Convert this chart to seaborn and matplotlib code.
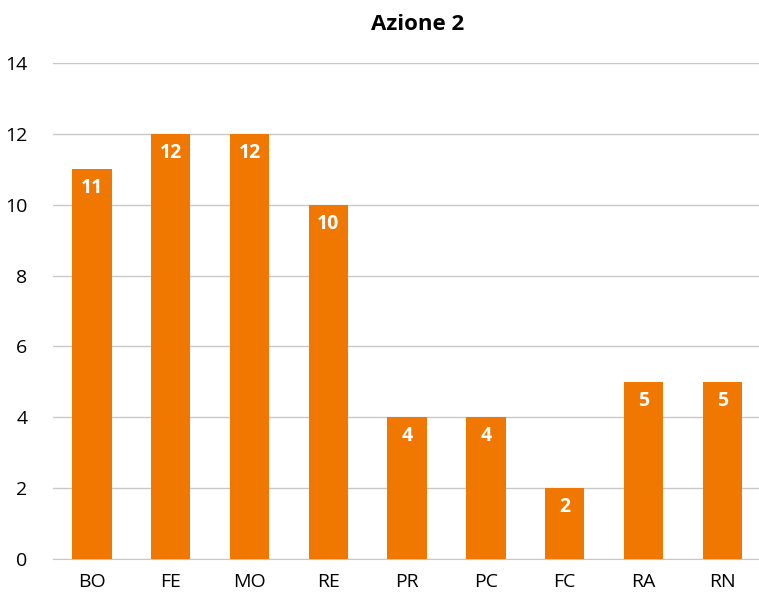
import matplotlib
matplotlib.use("Agg")
import matplotlib.pyplot as plt
import seaborn as sns
import pandas as pd

# data
categories = ["BO", "FE", "MO", "RE", "PR", "PC", "FC", "RA", "RN"]
values = [11, 12, 12, 10, 4, 4, 2, 5, 5]
y_ticks = [0, 2, 4, 6, 8, 10, 12, 14]

df = pd.DataFrame({"cat": categories, "val": values})

sns.set_style("white")
plt.rcParams["font.family"] = ["Open Sans", "DejaVu Sans"]

fig = plt.figure(figsize=(7.59, 5.98), dpi=100)
ax = fig.add_axes([52.6 / 759, 1 - 559 / 598, 709 / 759, (559 - 63) / 598])

sns.barplot(data=df, x="cat", y="val", color="#F07800", saturation=1,
            width=0.5, linewidth=0, edgecolor="none", ax=ax, zorder=3)

ax.set_ylim(0, 14)
ax.set_xlim(-0.5, len(categories) - 0.5)
ax.set_yticks(y_ticks)
ax.yaxis.grid(True, color="#C8C8C8", linewidth=1, zorder=0)
ax.set_xlabel("")
ax.set_ylabel("")
for s in ["top", "right", "left"]:
    ax.spines[s].set_visible(False)
ax.spines["bottom"].set_color("#C8C8C8")
ax.tick_params(axis="both", length=0, labelsize=14, colors="#000000")
ax.tick_params(axis="x", pad=10)
ax.tick_params(axis="y", pad=18)

# value labels inside bars
for i, v in enumerate(values):
    ax.text(i, v - 0.25, str(v), ha="center", va="top", color="white",
            fontsize=14, fontweight="bold")

fig.text(418 / 759, 1 - 25 / 598, "Azione 2", ha="center", va="center",
         fontsize=16, fontweight="bold", color="#000000")

fig.savefig("out.png", dpi=100)
